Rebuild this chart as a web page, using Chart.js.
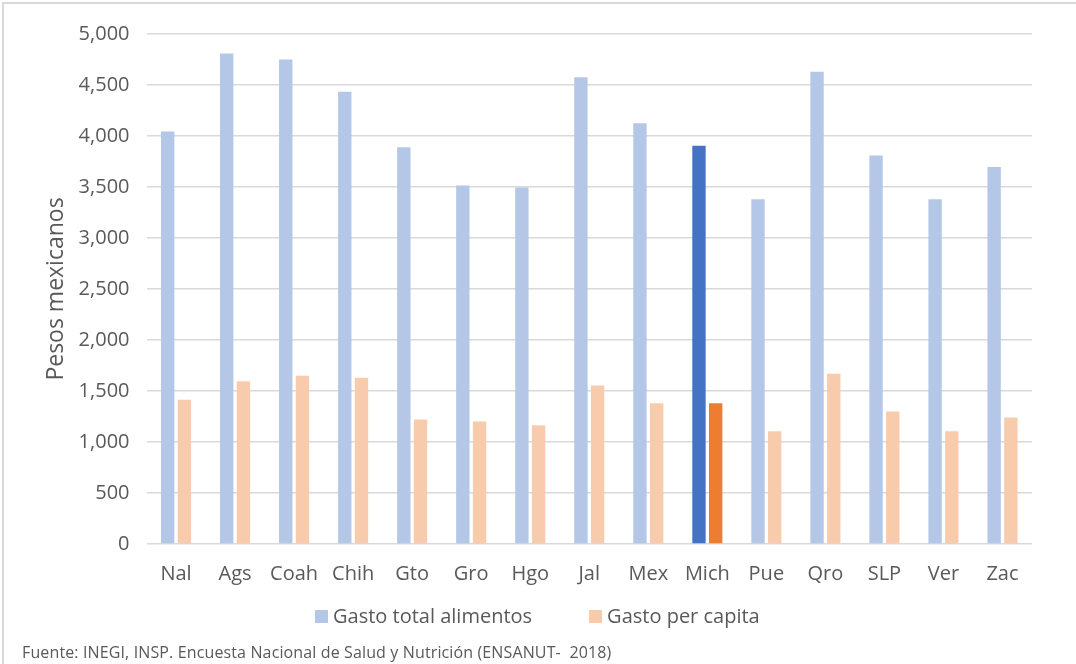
<!DOCTYPE html>
<html>
<head>
<meta charset="utf-8">
<script src="https://cdn.jsdelivr.net/npm/chart.js@4.4.1/dist/chart.umd.min.js"></script>
<style>
  html, body { margin: 0; padding: 0; background: #fff; overflow: hidden; }
  #wrap { position: relative; width: 1076px; height: 664px; overflow: hidden; }
  #frame { position: absolute; left: 2px; top: 2px; width: 1200px; height: 800px;
           border-left: 2px solid #d9d9d9; border-top: 2px solid #d9d9d9; box-sizing: border-box; }
  canvas { position: absolute; left: 0; top: 0; }
  #legend { position: absolute; left: 315px; top: 604px; display: flex; gap: 57px;
            font-family: 'Open Sans', sans-serif; font-size: 20px; line-height: 24px; color: #595959; }
  #legend .item { display: flex; align-items: center; white-space: nowrap; }
  #legend .swatch { width: 13px; height: 13px; margin-right: 5px; }
  #source { position: absolute; left: 22px; top: 641px; font-family: 'Open Sans', sans-serif;
            font-size: 16px; letter-spacing: 0.13px; color: #595959; white-space: pre; }
</style>
</head>
<body>
<div id="wrap">
  <div id="frame"></div>
  <canvas id="c" width="1076" height="664"></canvas>
  <div id="legend"></div>
  <div id="source">Fuente: INEGI, INSP. Encuesta Nacional de Salud y Nutrición (ENSANUT-  2018)</div>
</div>
<script>
// Entidades federativas
const categories = ["Nal", "Ags", "Coah", "Chih", "Gto", "Gro", "Hgo", "Jal", "Mex", "Mich", "Pue", "Qro", "SLP", "Ver", "Zac"];
// Gasto mensual total en alimentos por hogar (pesos)
const gastoTotal = [4045, 4810, 4750, 4435, 3890, 3515, 3495, 4575, 4125, 3905, 3380, 4630, 3810, 3380, 3695];
// Gasto mensual per cápita (pesos)
const gastoPerCapita = [1415, 1595, 1650, 1630, 1220, 1200, 1165, 1555, 1380, 1380, 1105, 1670, 1300, 1105, 1240];
// Marcas del eje vertical
const yTicks = [0, 500, 1000, 1500, 2000, 2500, 3000, 3500, 4000, 4500, 5000];
const seriesNames = ["Gasto total alimentos", "Gasto per capita"];

// Michoacán se resalta con colores plenos
const highlight = "Mich";
const blueSoft = "#b4c7e7", blueStrong = "#4472c4";
const orangeSoft = "#f8cbad", orangeStrong = "#ed7d31";
const colorsFor = (soft, strong) => categories.map(c => c === highlight ? strong : soft);

const FONT = "'Open Sans', sans-serif";
const GREY = "#595959";

const chart = new Chart(document.getElementById("c"), {
  type: "bar",
  data: {
    labels: categories,
    datasets: [
      { label: seriesNames[0], data: gastoTotal, backgroundColor: colorsFor(blueSoft, blueStrong),
        categoryPercentage: 0.566, barPercentage: 0.8 },
      { label: seriesNames[1], data: gastoPerCapita, backgroundColor: colorsFor(orangeSoft, orangeStrong),
        categoryPercentage: 0.566, barPercentage: 0.8 }
    ]
  },
  options: {
    responsive: false,
    animation: false,
    devicePixelRatio: 1,
    layout: { padding: { top: 34, left: 43, right: 44, bottom: 68 } },
    plugins: {
      tooltip: { enabled: false },
      legend: { display: false }
    },
    scales: {
      x: {
        grid: { display: false },
        border: { display: false },
        ticks: { font: { family: FONT, size: 20 }, color: GREY, padding: 10, maxRotation: 0 }
      },
      y: {
        min: 0,
        max: 5000,
        afterBuildTicks: axis => { axis.ticks = yTicks.map(v => ({ value: v })); },
        grid: { color: "#d9d9d9", lineWidth: 1.5, drawTicks: false },
        border: { display: false },
        ticks: {
          font: { family: FONT, size: 20 }, color: GREY, padding: 17,
          callback: v => v.toLocaleString("en-US")
        },
        title: {
          display: true, text: "Pesos mexicanos",
          font: { family: FONT, size: 23 }, color: GREY, padding: { top: 0, bottom: -9 }
        }
      }
    }
  }
});

// Leyenda con las series del gráfico (color base de cada serie)
const legendEl = document.getElementById("legend");
chart.data.datasets.forEach(ds => {
  const item = document.createElement("div");
  item.className = "item";
  const sw = document.createElement("span");
  sw.className = "swatch";
  sw.style.background = ds.backgroundColor[0];
  item.appendChild(sw);
  item.appendChild(document.createTextNode(ds.label));
  legendEl.appendChild(item);
});
</script>
</body>
</html>
